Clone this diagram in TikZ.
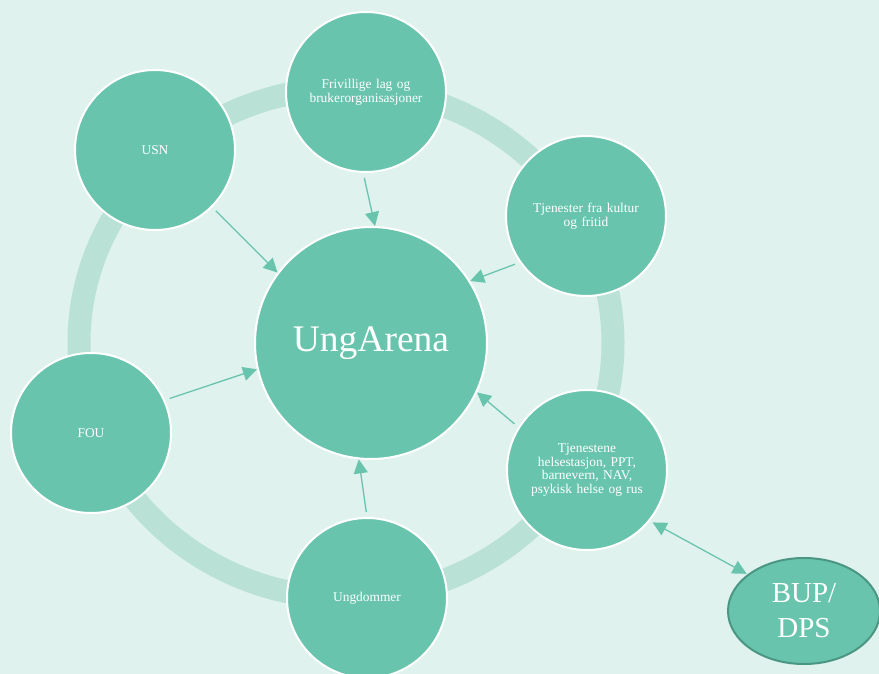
\documentclass[tikz,border=0pt]{standalone}
\usepackage{fontspec}
\setmainfont{Liberation Serif}
\usetikzlibrary{arrows.meta,shapes.geometric}
\definecolor{bgc}{HTML}{E0F2EE}
\definecolor{ringc}{HTML}{BAE1D6}
\definecolor{fillc}{HTML}{69C4AE}
\definecolor{darkc}{HTML}{4A9683}
\tikzset{
  sat/.style={circle, fill=fillc, draw=white, line width=2pt, minimum size=160pt, inner sep=0pt,
    text=white, align=center, font=\fontsize{13.4}{13.6}\selectfont, text width=145pt},
  hub/.style={circle, fill=fillc, draw=white, line width=2pt, minimum size=232pt, inner sep=0pt,
    text=white, font=\fontsize{37.5}{40}\selectfont},
  bup/.style={ellipse, fill=fillc, draw=darkc, line width=2pt, minimum width=152pt, minimum height=106pt, inner sep=0pt,
    text=white, align=center, font=\fontsize{29}{35}\selectfont},
  arr/.style={draw=fillc, line width=1.3pt, -{Triangle[length=14pt,width=14pt]}, shorten >=0pt, shorten <=5pt},
  darr/.style={draw=fillc, line width=1.3pt, {Triangle[length=14pt,width=14pt]}-{Triangle[length=14pt,width=14pt]}, shorten >=1pt, shorten <=3pt}
}
\begin{document}
\begin{tikzpicture}[x=1pt,y=-1pt]
\useasboundingbox (0,0) rectangle (879,674);
\clip (0,0) rectangle (879,674);
\fill[bgc] (0,0) rectangle (879,674);
\draw[ringc, line width=23pt] (346,343) ellipse [x radius=267, y radius=255];
\node[hub] (ung) at (371,343) {UngArena};
\node[sat] (fri) at (366,92) {Frivillige lag og\\brukerorganisasjoner};
\node[sat] (kul) at (586,216) {Tjenester fra kultur\\og fritid};
\node[sat] (tje) at (587,470) {Tjenestene\\helsestasjon, PPT,\\barnevern, NAV,\\psykisk helse og rus};
\node[sat] (udo) at (367,598) {Ungdommer};
\node[sat] (fou) at (91,433) {FOU};
\node[sat] (usn) at (155,150) {USN};
\node[bup] (bupd) at (804,611) {BUP/\\DPS};
\draw[arr] (usn.-45) -- (ung.143);
\draw[arr] (fri.268) -- (ung.88);
\draw[arr] (kul.215) -- (ung.32);
\draw[arr] (tje.148) -- (ung.-25);
\draw[arr] (udo.90) -- (ung.264);
\draw[arr] (fou.24) -- (ung.193);
\draw[darr] (tje.-39) -- (bupd.147);
\end{tikzpicture}
\end{document}
